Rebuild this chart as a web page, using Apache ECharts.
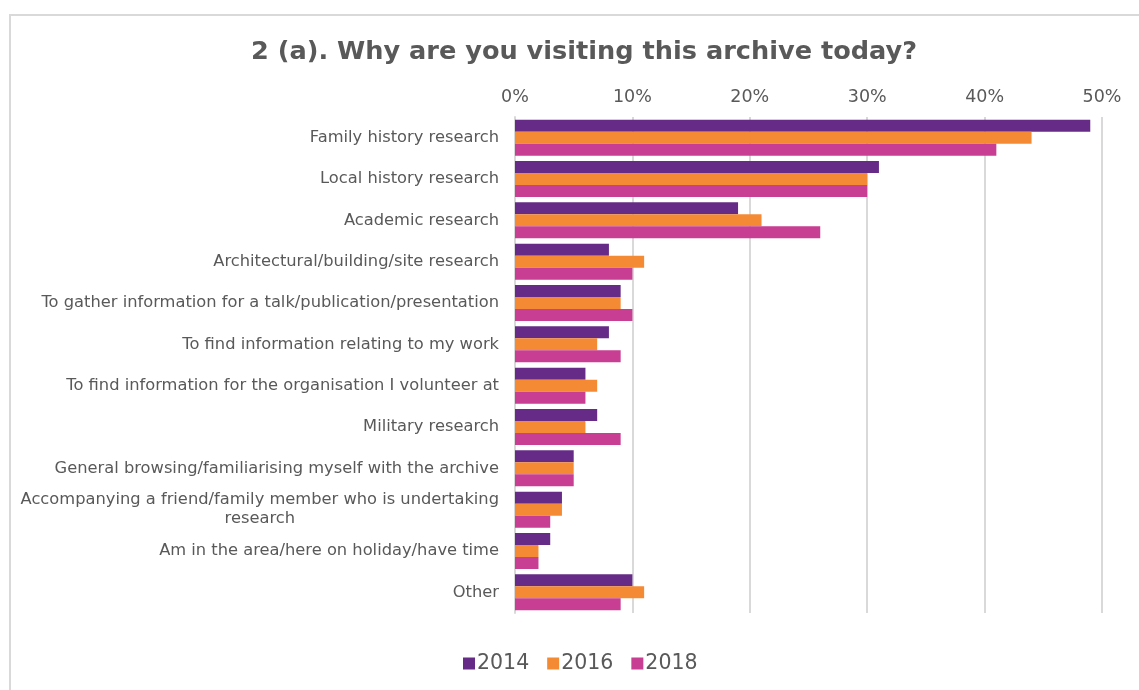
<!DOCTYPE html>
<html>
<head>
<meta charset="utf-8">
<script src="https://cdn.jsdelivr.net/npm/echarts@6/dist/echarts.min.js"></script>
<style>
  html, body { margin: 0; padding: 0; background: #fff; }
  #frame { position: absolute; left: 9px; top: 14px; width: 1140px; height: 690px;
           border-left: 2px solid #d9d9d9; border-top: 2px solid #d9d9d9; box-sizing: border-box; }
  #chart { position: absolute; left: 0; top: 0; width: 1139px; height: 690px; }
</style>
</head>
<body>
<div id="frame"></div>
<div id="chart"></div>
<script>
// Reasons for visiting, top to bottom
const categories = [
  'Family history research',
  'Local history research',
  'Academic research',
  'Architectural/building/site research',
  'To gather information for a talk/publication/presentation',
  'To find information relating to my work',
  'To find information for the organisation I volunteer at',
  'Military research',
  'General browsing/familiarising myself with the archive',
  'Accompanying a friend/family member who is undertaking\nresearch',
  'Am in the area/here on holiday/have time',
  'Other'
];
// Share of visitors (%) per survey year
const values2014 = [49, 31, 19, 8, 9, 8, 6, 7, 5, 4, 3, 10];
const values2016 = [44, 30, 21, 11, 9, 7, 7, 6, 5, 4, 2, 11];
const values2018 = [41, 30, 26, 10, 10, 9, 6, 9, 5, 3, 2, 9];
const seriesNames = ['2014', '2016', '2018'];
const seriesColors = ['#652b87', '#f58a35', '#c83e93'];

const font = '"DejaVu Sans", sans-serif';
const chart = echarts.init(document.getElementById('chart'));
const allValues = [values2014, values2016, values2018];

chart.setOption({
  animation: false,
  title: {
    text: '2 (a). Why are you visiting this archive today?',
    left: 246, top: 34,
    textStyle: { fontFamily: font, fontSize: 25.6, fontWeight: 'bold', color: '#595959' }
  },
  legend: {
    bottom: 11, left: 458,
    itemWidth: 12, itemHeight: 12, itemGap: 18, icon: 'rect',
    textStyle: { fontFamily: font, fontSize: 20.5, color: '#595959', padding: [0, 0, 0, -3] },
    data: seriesNames
  },
  grid: { left: 515, right: 37, top: 117, bottom: 77 },
  xAxis: {
    type: 'value', position: 'top', min: 0, max: 50, interval: 10,
    axisLine: { show: false }, axisTick: { show: false },
    splitLine: { lineStyle: { color: '#d9d9d9', width: 2 } },
    axisLabel: { formatter: '{value}%', fontFamily: font, fontSize: 17.5, color: '#595959', margin: 11 }
  },
  yAxis: {
    type: 'category', inverse: true, data: categories,
    axisLine: { show: true, lineStyle: { color: '#d9d9d9', width: 2 } },
    axisTick: { show: false },
    axisLabel: {
      fontFamily: font, fontSize: 16.3, color: '#595959', margin: 16, lineHeight: 19,
      formatter: function (v) {
        return v.split('\n').map(function (s) { return '{c|' + s + '}'; }).join('\n');
      },
      rich: { c: { fontFamily: font, fontSize: 16.3, color: '#595959', align: 'center', lineHeight: 19 } }
    }
  },
  series: seriesNames.map(function (name, i) {
    return {
      name: name, type: 'bar', data: allValues[i],
      barGap: '0%', barCategoryGap: '13%',
      itemStyle: { color: seriesColors[i] }
    };
  })
});
</script>
</body>
</html>
